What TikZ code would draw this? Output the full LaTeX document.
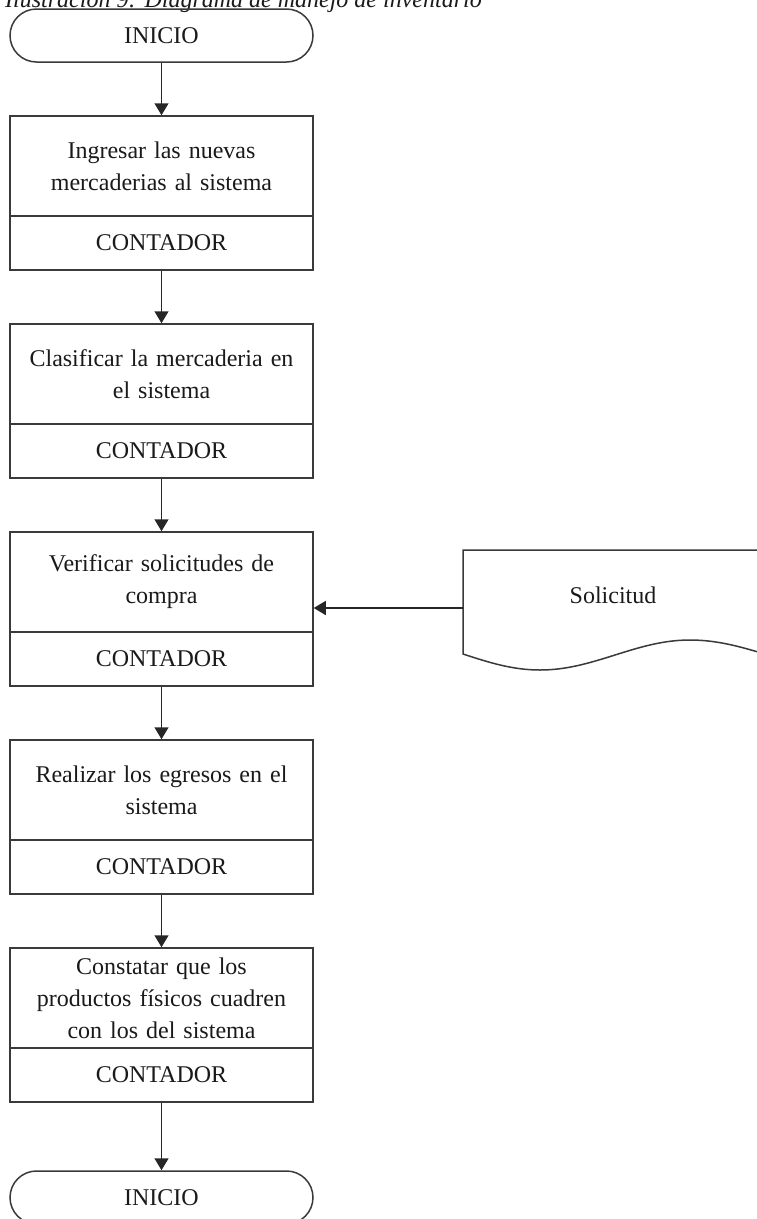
\documentclass[tikz,border=0pt]{standalone}
\usepackage{fontspec}
\setmainfont{Liberation Serif}
\usetikzlibrary{arrows.meta}
\definecolor{ln}{HTML}{3A3A3A}
\definecolor{tx}{HTML}{1A1A1A}
\begin{document}
\begin{tikzpicture}[x=1pt,y=-1pt,
  every node/.style={font=\fontsize{24}{32}\selectfont, text=tx},
  term/.style={draw=ln, line width=1.5pt, rectangle, rounded corners=26.5pt, minimum width=303pt, minimum height=53pt, inner sep=0pt},
  upbox/.style={draw=ln, line width=1.5pt, rectangle, minimum width=303pt, minimum height=100pt, inner sep=0pt, align=center, text width=295pt},
  lowbox/.style={draw=ln, line width=1.5pt, rectangle, minimum width=303pt, minimum height=54pt, inner sep=0pt},
  arr/.style={draw=black!85, line width=1.5pt, -{Triangle[width=14pt,length=12pt]}},
  docline/.style={draw=ln, line width=1.5pt}
]
\useasboundingbox (0,0) rectangle (757,1219);
\fill[white] (0,0) rectangle (757,1219);

% caption (cut at top)
\node[anchor=base west, inner sep=0pt, font=\fontsize{24}{28}\selectfont\itshape] (cap) at (5,7) {Ilustración 9: Diagrama de manejo de inventario};

\node[term] (start) at (161.5,35.5) {INICIO};

\node[upbox] (b1) at (161.5,166) {Ingresar las nuevas\\mercaderias al sistema};
\node[lowbox] (c1) at (161.5,243) {CONTADOR};

\node[upbox] (b2) at (161.5,374) {Clasificar la mercaderia en\\el sistema};
\node[lowbox] (c2) at (161.5,451) {CONTADOR};

\node[upbox] (b3) at (161.5,582) {Verificar solicitudes de\\compra};
\node[lowbox] (c3) at (161.5,659) {CONTADOR};

\node[upbox] (b4) at (161.5,790) {Realizar los egresos en el\\sistema};
\node[lowbox] (c4) at (161.5,867) {CONTADOR};

\node[upbox] (b5) at (161.5,998) {Constatar que los\\productos físicos cuadren\\con los del sistema};
\node[lowbox] (c5) at (161.5,1075) {CONTADOR};

\node[term] (fin) at (161.5,1197.5) {INICIO};

% document shape
\draw[docline] (768,550) -- (463,550) -- (463,654)
  sin (540,670) cos (615,655) sin (690,640) cos (768,655) -- cycle;
\node (doc) at (613,595) {Solicitud};
\coordinate (docin) at (463,608);

% connectors
\draw[arr] (start.south) -- (b1.north);
\draw[arr] (c1.south) -- (b2.north);
\draw[arr] (c2.south) -- (b3.north);
\draw[arr] (c3.south) -- (b4.north);
\draw[arr] (c4.south) -- (b5.north);
\draw[arr] (c5.south) -- (fin.north);
\draw[arr] (docin) -- (docin -| b3.east);
\end{tikzpicture}
\end{document}
